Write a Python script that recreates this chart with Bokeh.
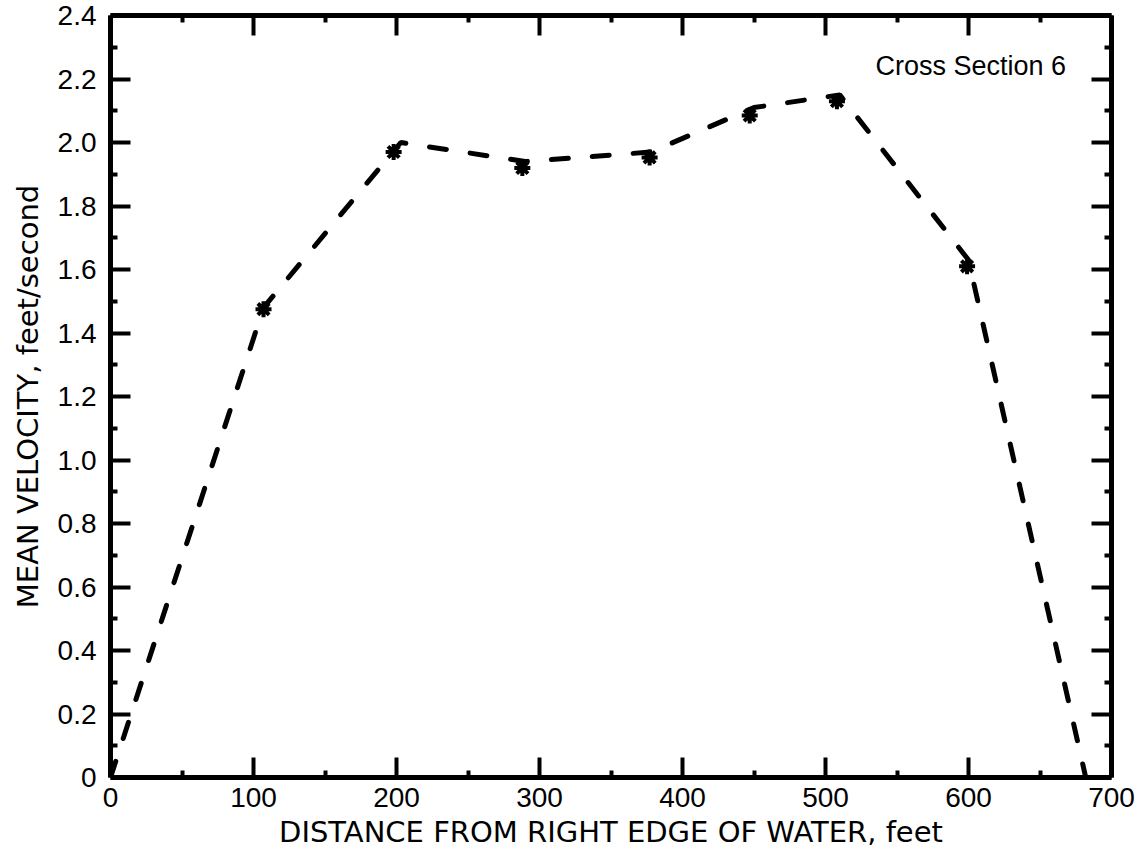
from bokeh.plotting import figure
from bokeh.models import LinearAxis, FixedTicker, Label, Range1d
from bokeh.embed import file_html
from bokeh.resources import INLINE

# Data
line_x = [0, 107, 203, 290, 378, 450, 510, 600, 682]
line_y = [0, 1.48, 2.0, 1.94, 1.97, 2.11, 2.15, 1.63, 0]
point_x = [107, 198, 288, 377, 447, 508, 599]
point_y = [1.475, 1.97, 1.92, 1.953, 2.085, 2.13, 1.61]

x_ticks = [0, 100, 200, 300, 400, 500, 600, 700]
x_tick_labels = ["0", "100", "200", "300", "400", "500", "600", "700"]
x_minor = [50, 150, 250, 350, 450, 550, 650]
y_ticks = [0, 0.2, 0.4, 0.6, 0.8, 1.0, 1.2, 1.4, 1.6, 1.8, 2.0, 2.2, 2.4]
y_tick_labels = ["0", "0.2", "0.4", "0.6", "0.8", "1.0", "1.2", "1.4", "1.6", "1.8", "2.0", "2.2", "2.4"]
y_minor = [0.1, 0.3, 0.5, 0.7, 0.9, 1.1, 1.3, 1.5, 1.7, 1.9, 2.1, 2.3]

FONT = "Liberation Sans"
LABEL_FONT = "DejaVu Sans"

p = figure(width=1142, height=866, output_backend="svg", toolbar_location=None,
           x_range=Range1d(0, 700), y_range=Range1d(0, 2.4),
           x_axis_location=None, y_axis_location=None,
           min_border_left=110, min_border_right=31, min_border_top=15, min_border_bottom=89)
p.outline_line_color = None
p.xgrid.visible = False
p.ygrid.visible = False
p.background_fill_color = "white"

def style(ax, ticks, minor, labels, show):
    ax.ticker = FixedTicker(ticks=ticks, minor_ticks=minor)
    ax.axis_line_width = 5
    ax.axis_line_color = "black"
    ax.major_tick_in = 20
    ax.major_tick_out = 0
    ax.minor_tick_in = 7
    ax.minor_tick_out = 0
    ax.major_tick_line_width = 4
    ax.minor_tick_line_width = 4
    ax.major_tick_line_color = "black"
    ax.minor_tick_line_color = "black"
    if show:
        ax.major_label_overrides = {t: l for t, l in zip(ticks, labels)}
        ax.major_label_text_font = FONT
        ax.major_label_text_font_size = "28px"
        ax.major_label_text_color = "black"
    else:
        ax.major_label_text_font_size = "0px"
        ax.major_label_text_alpha = 0

xb = LinearAxis()
style(xb, x_ticks, x_minor, x_tick_labels, True)
xb.major_label_standoff = 10
xb.axis_label = "DISTANCE FROM RIGHT EDGE OF WATER, feet"
xb.axis_label_text_font = LABEL_FONT
xb.axis_label_text_font_size = "29px"
xb.axis_label_text_font_style = "normal"
xb.axis_label_text_color = "black"
xb.axis_label_standoff = 5
p.add_layout(xb, "below")

yl = LinearAxis()
style(yl, y_ticks, y_minor, y_tick_labels, True)
yl.major_label_standoff = 14
yl.axis_label = "MEAN VELOCITY, feet/second"
yl.axis_label_text_font = LABEL_FONT
yl.axis_label_text_font_size = "29px"
yl.axis_label_text_font_style = "normal"
yl.axis_label_text_color = "black"
yl.axis_label_standoff = 10
p.add_layout(yl, "left")

xt = LinearAxis()
style(xt, x_ticks, x_minor, x_tick_labels, False)
p.add_layout(xt, "above")

yr = LinearAxis()
style(yr, y_ticks, y_minor, y_tick_labels, False)
p.add_layout(yr, "right")

p.line(line_x, line_y, line_color="black", line_width=5, line_dash="17 24", line_cap="round")
p.scatter(point_x, point_y, marker="asterisk", size=16, line_width=4, line_color="black")

p.add_layout(Label(x=535, y=2.195, text="Cross Section 6", text_font=FONT,
                   text_font_size="27px", text_color="black"))

open("out.html", "w").write(file_html(p, INLINE))
